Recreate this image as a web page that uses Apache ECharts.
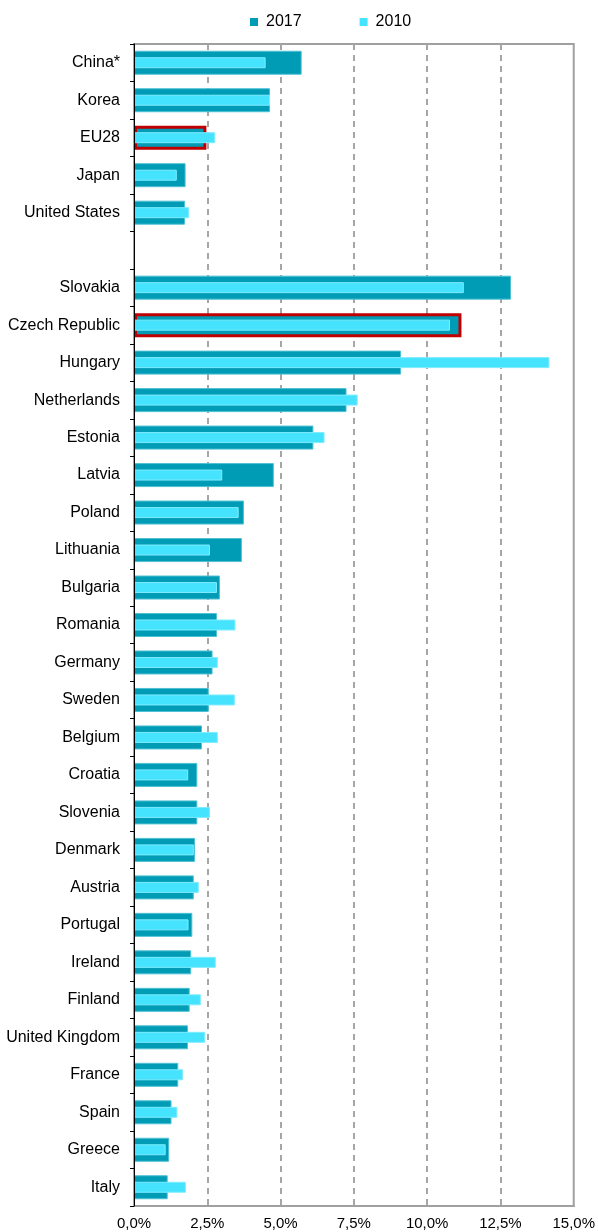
<!DOCTYPE html>
<html>
<head>
<meta charset="utf-8">
<script src="https://cdn.jsdelivr.net/npm/echarts@6/dist/echarts.min.js"></script>
<style>
html,body{margin:0;padding:0;background:#fff;}
#chart{width:598px;height:1232px;}
</style>
</head>
<body>
<div id="chart"></div>
<script>
const categories = ['China*','Korea','EU28','Japan','United States','',
  'Slovakia','Czech Republic','Hungary','Netherlands','Estonia','Latvia','Poland','Lithuania',
  'Bulgaria','Romania','Germany','Sweden','Belgium','Croatia','Slovenia','Denmark','Austria',
  'Portugal','Ireland','Finland','United Kingdom','France','Spain','Greece','Italy'];
const values2017 = [5.72,4.64,2.47,1.76,1.74,null,
  12.86,11.17,9.11,7.25,6.12,4.77,3.75,3.68,
  2.93,2.83,2.68,2.55,2.32,2.16,2.16,2.08,2.04,
  1.99,1.95,1.90,1.84,1.51,1.28,1.20,1.15];
const values2010 = [4.49,4.64,2.77,1.46,1.88,null,
  11.25,10.78,14.17,7.63,6.50,3.01,3.57,2.59,
  2.83,3.46,2.86,3.44,2.86,1.85,2.59,2.04,2.21,
  1.86,2.79,2.28,2.43,1.67,1.48,1.08,1.77];
const highlighted = ['EU28','Czech Republic'];
const tickLabels = ['0,0%','2,5%','5,0%','7,5%','10,0%','12,5%','15,0%'];

const font = 'Liberation Sans, Arial, sans-serif';
const data2017 = values2017.map((v,i)=> highlighted.includes(categories[i])
  ? {value:v, itemStyle:{borderColor:'#C00000', borderWidth:3}}
  : v);

const chart = echarts.init(document.getElementById('chart'), null, {renderer:'canvas'});
chart.setOption({
  animation:false,
  backgroundColor:'#ffffff',
  textStyle:{fontFamily:font},
  legend:{
    left:245, top:9,
    itemWidth:8, itemHeight:8, itemGap:58,
    icon:'rect',
    itemStyle:{borderWidth:0},
    textStyle:{fontSize:16, color:'#000', fontFamily:font, padding:[0,0,0,3]},
    data:['2017','2010']
  },
  grid:{left:134, right:24, top:44, bottom:26, show:true, borderColor:'#a0a0a0', borderWidth:2},
  xAxis:{
    type:'value', min:0, max:15, interval:2.5,
    axisLine:{show:true, lineStyle:{color:'#a0a0a0', width:2}},
    axisTick:{show:false},
    axisLabel:{margin:10, fontSize:15, color:'#000', fontFamily:font,
      formatter:(v)=>tickLabels[Math.round(v/2.5)]},
    splitLine:{show:true, showMinLine:false, showMaxLine:false,
      lineStyle:{color:'#a6a6a6', width:2, type:[6,5]}}
  },
  yAxis:[{
    type:'category', data:categories, inverse:true,
    axisLine:{show:true, lineStyle:{color:'#000', width:1}},
    axisTick:{show:true, length:4, lineStyle:{color:'#000'}},
    axisLabel:{margin:14, fontSize:16, color:'#000', fontFamily:font},
    z:5
  },{
    type:'category', data:categories, inverse:true, show:false,
    axisLine:{show:false}, axisTick:{show:false}, axisLabel:{show:false}
  }],
  series:[{
    name:'2017', type:'bar', yAxisIndex:0, barWidth:24,
    itemStyle:{color:'#009BB5', borderColor:'#4fc1d4', borderWidth:1},
    data:data2017, z:2
  },{
    name:'2010', type:'bar', yAxisIndex:1, barWidth:11,
    itemStyle:{color:'#46E3FF', borderColor:'#7eecff', borderWidth:1},
    data:values2010, z:3
  }]
});
</script>
</body>
</html>
